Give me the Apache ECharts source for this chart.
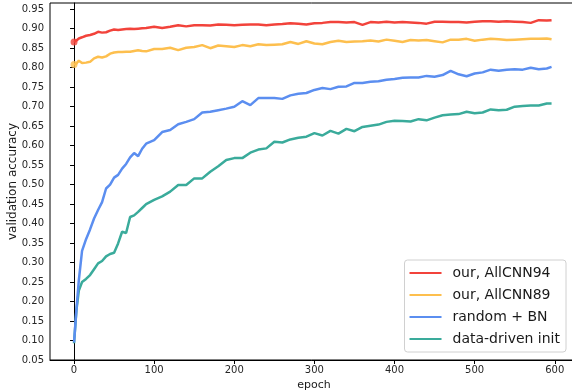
<!DOCTYPE html>
<html>
<head>
<meta charset="utf-8">
<script src="https://cdn.jsdelivr.net/npm/echarts@6/dist/echarts.min.js"></script>
<style>
  html, body { margin: 0; padding: 0; background: #fff; }
  #main { width: 572px; height: 391px; }
</style>
</head>
<body>
<div id="main"></div>
<script>
// epochs shared by all curves
var epochs = [0, 3, 6, 10, 15, 20, 25, 30, 35, 40, 45, 50, 55, 60, 65, 70, 75, 80, 85, 90,
  100, 110, 120, 130, 140, 150, 160, 170, 180, 190, 200, 210, 220, 230, 240, 250, 260, 270, 280, 290,
  300, 310, 320, 330, 340, 350, 360, 370, 380, 390, 400, 410, 420, 430, 440, 450, 460, 470, 480, 490,
  500, 510, 520, 530, 540, 550, 560, 570, 580, 590, 596];

var our94 = [0.866, 0.870, 0.875, 0.878, 0.882, 0.884, 0.887, 0.892, 0.890, 0.891, 0.895, 0.898, 0.897, 0.898, 0.899, 0.900, 0.899, 0.900, 0.901, 0.902,
  0.905, 0.902, 0.905, 0.909, 0.906, 0.909, 0.909, 0.908, 0.911, 0.910, 0.909, 0.910, 0.911, 0.911, 0.909, 0.911, 0.912, 0.914, 0.913, 0.911,
  0.914, 0.915, 0.917, 0.917, 0.916, 0.917, 0.910, 0.917, 0.916, 0.918, 0.916, 0.917, 0.916, 0.915, 0.913, 0.918, 0.918, 0.917, 0.917, 0.916,
  0.918, 0.919, 0.919, 0.918, 0.919, 0.918, 0.917, 0.915, 0.922, 0.921, 0.922];

var our89 = [0.808, 0.811, 0.818, 0.812, 0.813, 0.815, 0.824, 0.828, 0.826, 0.829, 0.836, 0.839, 0.840, 0.840, 0.841, 0.841, 0.843, 0.845, 0.843, 0.842,
  0.848, 0.848, 0.851, 0.845, 0.851, 0.853, 0.858, 0.850, 0.857, 0.855, 0.853, 0.858, 0.855, 0.860, 0.858, 0.859, 0.860, 0.866, 0.861, 0.868,
  0.862, 0.860, 0.866, 0.869, 0.866, 0.867, 0.868, 0.870, 0.867, 0.872, 0.869, 0.866, 0.871, 0.870, 0.871, 0.868, 0.865, 0.872, 0.872, 0.874,
  0.869, 0.872, 0.874, 0.873, 0.871, 0.872, 0.873, 0.874, 0.874, 0.875, 0.873];

var randomBN = [0.095, 0.180, 0.255, 0.330, 0.360, 0.385, 0.413, 0.435, 0.455, 0.490, 0.500, 0.518, 0.525, 0.541, 0.553, 0.570, 0.581, 0.573, 0.592, 0.605,
  0.614, 0.635, 0.640, 0.655, 0.661, 0.668, 0.685, 0.687, 0.691, 0.695, 0.700, 0.714, 0.704, 0.722, 0.722, 0.722, 0.720, 0.729, 0.733, 0.735,
  0.743, 0.748, 0.745, 0.751, 0.752, 0.761, 0.761, 0.764, 0.765, 0.769, 0.771, 0.774, 0.775, 0.775, 0.779, 0.777, 0.781, 0.792, 0.783, 0.778,
  0.785, 0.788, 0.795, 0.792, 0.795, 0.796, 0.795, 0.800, 0.796, 0.798, 0.802];

var dataDriven = [0.093, 0.178, 0.228, 0.250, 0.258, 0.268, 0.283, 0.298, 0.304, 0.316, 0.322, 0.325, 0.349, 0.379, 0.376, 0.417, 0.421, 0.430, 0.440, 0.450,
  0.461, 0.470, 0.482, 0.499, 0.499, 0.516, 0.516, 0.533, 0.547, 0.563, 0.568, 0.568, 0.582, 0.590, 0.593, 0.610, 0.608, 0.616, 0.620, 0.623,
  0.632, 0.626, 0.638, 0.631, 0.643, 0.637, 0.648, 0.651, 0.654, 0.661, 0.664, 0.663, 0.662, 0.668, 0.665, 0.672, 0.678, 0.680, 0.681, 0.687,
  0.683, 0.685, 0.693, 0.691, 0.692, 0.700, 0.702, 0.703, 0.703, 0.708, 0.708];

var names = ['our, AllCNN94', 'our, AllCNN89', 'random + BN', 'data-driven init'];
var colors = ['#f2433b', '#fdbf4e', '#5b8ef0', '#3aab9b'];
var xTicks = [0, 100, 200, 300, 400, 500, 600];
var yTicks = [0.05, 0.10, 0.15, 0.20, 0.25, 0.30, 0.35, 0.40, 0.45, 0.50, 0.55, 0.60, 0.65, 0.70, 0.75, 0.80, 0.85, 0.90, 0.95];

function pairs(arr) {
  return epochs.map(function (e, i) { return [e, arr[i]]; });
}

var chart = echarts.init(document.getElementById('main'), null, { renderer: 'canvas' });
var font = 'DejaVu Sans';
var lines = [our94, our89, randomBN, dataDriven];

var series = lines.map(function (arr, i) {
  return {
    name: names[i],
    type: 'line',
    data: pairs(arr),
    showSymbol: false,
    color: colors[i],
    lineStyle: { width: 2.5, color: colors[i] },
    animation: false,
    z: 10 - i
  };
});
// start markers for the two "our" curves
[0, 1].forEach(function (i) {
  series.push({
    type: 'scatter',
    data: [[epochs[0], lines[i][0]]],
    symbolSize: 7,
    itemStyle: { color: colors[i] },
    animation: false,
    z: 10 - i
  });
});

var option = {
  backgroundColor: '#fff',
  grid: {
    left: 50, top: 3, right: -6, bottom: 31,
    outerBoundsMode: 'none',
    containLabel: false,
    show: true, borderColor: '#000', borderWidth: 1
  },
  legend: {
    data: names,
    orient: 'vertical',
    right: 6,
    bottom: 39,
    padding: [6, 6, 6, 5],
    itemWidth: 32,
    itemHeight: 2,
    itemGap: 8,
    icon: 'rect',
    backgroundColor: '#fff',
    borderColor: '#d0d0d0',
    borderWidth: 1,
    borderRadius: 3,
    textStyle: { fontFamily: font, fontSize: 14, color: '#1a1a1a', padding: [0, 0, 0, 6] }
  },
  xAxis: {
    type: 'value',
    min: -30,
    max: 629,
    name: 'epoch',
    nameLocation: 'middle',
    nameGap: 20,
    nameMoveOverlap: false,
    nameTextStyle: { fontFamily: font, fontSize: 11, color: '#1a1a1a' },
    splitLine: { show: false },
    axisLine: { onZero: false, lineStyle: { color: '#000', width: 1 } },
    axisTick: { customValues: xTicks, length: 4, lineStyle: { color: '#000' } },
    axisLabel: { customValues: xTicks, fontFamily: font, fontSize: 10, color: '#262626', margin: 5 }
  },
  yAxis: {
    type: 'value',
    min: 0.05,
    max: 0.966,
    name: 'validation accuracy',
    nameLocation: 'middle',
    nameGap: 31,
    nameMoveOverlap: false,
    nameTextStyle: { fontFamily: font, fontSize: 12, color: '#1a1a1a' },
    splitLine: { show: false },
    axisLine: { show: true, lineStyle: { color: '#000', width: 1 } },
    axisTick: { show: true, customValues: yTicks, length: 4, lineStyle: { color: '#000' } },
    axisLabel: {
      customValues: yTicks, fontFamily: font, fontSize: 10, color: '#262626', margin: 6,
      formatter: function (v) { return v.toFixed(2); }
    }
  },
  series: series
};
chart.setOption(option);
</script>
</body>
</html>
